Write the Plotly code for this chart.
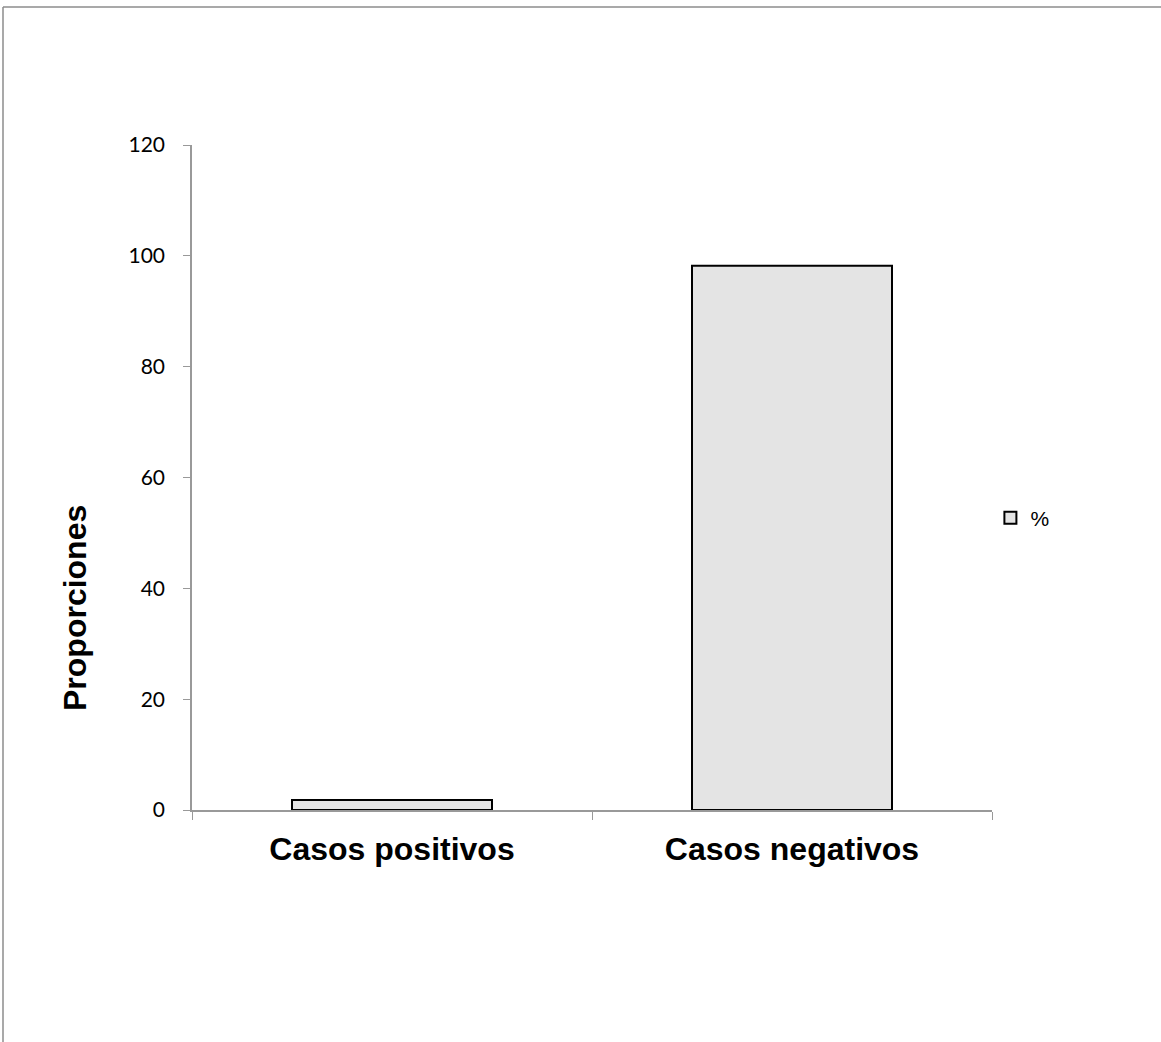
import plotly.graph_objects as go

categories = ["Casos positivos", "Casos negativos"]
values = [1.8, 98.2]
series_name = "%"
y_ticks = [0, 20, 40, 60, 80, 100, 120]
y_title = "Proporciones"

W, H = 1161, 1042
L, R, T, B = 192, 169, 145, 232

fig = go.Figure()
fig.add_trace(go.Bar(
    x=categories, y=values, name=series_name,
    marker=dict(color="#e4e4e4", line=dict(color="#000000", width=2)),
    showlegend=True,
))

pw = W - L - R
ph = H - T - B
fig.add_shape(type="line", xref="paper", yref="paper",
              x0=(3 - L) / pw, x1=(W + 10 - L) / pw,
              y0=(H - B - 7) / ph, y1=(H - B - 7) / ph,
              line=dict(color="#8c8c8c", width=1.5))
fig.add_shape(type="line", xref="paper", yref="paper",
              x0=(3 - L) / pw, x1=(3 - L) / pw,
              y0=(H - B - 7) / ph, y1=-(B + 10) / ph,
              line=dict(color="#8c8c8c", width=1.5))

fig.add_annotation(
    text=y_title, textangle=-90, showarrow=False,
    xref="paper", yref="paper", x=(75 - L) / pw, y=(810 - 608) / ph,
    xanchor="center", yanchor="middle",
    font=dict(family="Liberation Sans, Arial", size=32, color="#000", weight="bold"),
)

fig.update_layout(
    width=W, height=H,
    margin=dict(l=L, r=R, t=T, b=B),
    paper_bgcolor="white", plot_bgcolor="white",
    bargap=0.5,
    showlegend=True,
    legend=dict(x=0.998, y=(810 - 518) / ph, xanchor="left", yanchor="middle",
                font=dict(family="Liberation Sans, Arial", size=21, color="#000"),
                bgcolor="rgba(0,0,0,0)", itemwidth=30),
    font=dict(family="Lato, Arial", color="#000"),
)
fig.update_xaxes(
    showline=True, linecolor="#999999", linewidth=1.5,
    ticks="outside", tickson="boundaries", ticklen=8, tickcolor="#999999",
    ticklabelstandoff=10,
    tickfont=dict(family="Liberation Sans, Arial", size=32, color="#000", weight="bold"),
    showgrid=False,
)
fig.update_yaxes(
    range=[0, 120], tickvals=y_ticks,
    showline=True, linecolor="#999999", linewidth=1.5,
    ticks="outside", ticklen=7, tickcolor="#999999",
    ticklabelstandoff=14,
    tickfont=dict(family="Lato, Arial", size=21, color="#000"),
    showgrid=False, zeroline=False,
)

fig.write_html("out.html")
